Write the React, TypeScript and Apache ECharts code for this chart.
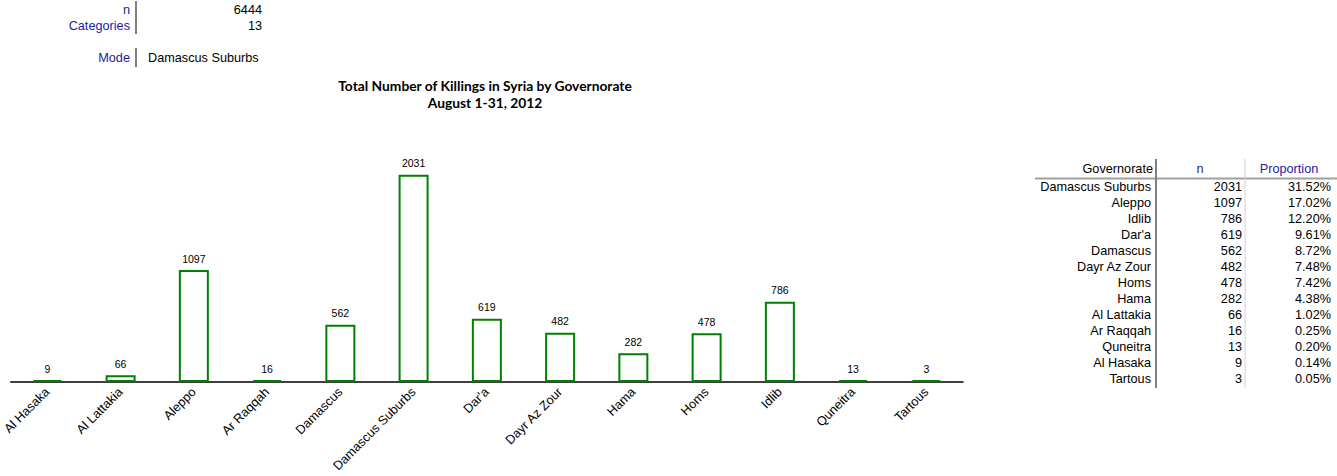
import React, { useEffect, useRef } from "react";
import * as echarts from "echarts";

const categories = [
  "Al Hasaka", "Al Lattakia", "Aleppo", "Ar Raqqah", "Damascus", "Damascus Suburbs",
  "Dar'a", "Dayr Az Zour", "Hama", "Homs", "Idlib", "Quneitra", "Tartous",
];
const killings = [9, 66, 1097, 16, 562, 2031, 619, 482, 282, 478, 786, 13, 3];

const statLabels = ["n", "Categories"];
const statValues = ["6444", "13"];
const modeLabel = "Mode";
const modeValue = "Damascus Suburbs";

const titleLines = ["Total Number of Killings in Syria by Governorate", "August 1-31, 2012"];

const tableHeaders = ["Governorate", "n", "Proportion"];
const tableNames = [
  "Damascus Suburbs", "Aleppo", "Idlib", "Dar'a", "Damascus", "Dayr Az Zour", "Homs",
  "Hama", "Al Lattakia", "Ar Raqqah", "Quneitra", "Al Hasaka", "Tartous",
];
const tableN = [2031, 1097, 786, 619, 562, 482, 478, 282, 66, 16, 13, 9, 3];
const tableProp = [
  "31.52%", "17.02%", "12.20%", "9.61%", "8.72%", "7.48%", "7.42%", "4.38%",
  "1.02%", "0.25%", "0.20%", "0.14%", "0.05%",
];

const FONT = '"Liberation Sans", Arial, sans-serif';
const BLUE = "#22229e";

export default function App() {
  const ref = useRef<HTMLDivElement>(null);
  useEffect(() => {
    if (!ref.current) return;
    const chart = echarts.init(ref.current, undefined, { renderer: "svg" });
    const txt = (x: number, y: number, text: string, align: string, fill = "#000", font = `12.7px ${FONT}`) => ({
      type: "text",
      x,
      y,
      silent: true,
      style: { text, font, fill, textAlign: align, textVerticalAlign: "middle" },
    });
    const ln = (x1: number, y1: number, x2: number, y2: number, stroke: string, w: number) => ({
      type: "line",
      silent: true,
      shape: { x1, y1, x2, y2 },
      style: { stroke, lineWidth: w },
    });
    const graphics: any[] = [];
    statLabels.forEach((l, i) => {
      graphics.push(txt(130, 10 + i * 16, l, "right", BLUE));
      graphics.push(txt(262, 10 + i * 16, statValues[i], "right"));
    });
    graphics.push(ln(136, 1, 136, 34, "#808080", 2));
    graphics.push(txt(130, 58, modeLabel, "right", BLUE));
    graphics.push(txt(148, 58, modeValue, "left"));
    graphics.push(ln(136, 48, 136, 67, "#808080", 2));
    titleLines.forEach((t, i) => {
      graphics.push(txt(485, 85 + i * 17, t, "center", "#000", `bold 13.8px Lato, "Open Sans", sans-serif`));
    });
    // table
    graphics.push(txt(1153, 169, tableHeaders[0], "right"));
    graphics.push(txt(1200, 169, tableHeaders[1], "center", BLUE));
    graphics.push(txt(1289, 169, tableHeaders[2], "center", BLUE));
    tableNames.forEach((nm, i) => {
      const y = 187 + i * 16;
      graphics.push(txt(1151, y, nm, "right"));
      graphics.push(txt(1242, y, String(tableN[i]), "right"));
      graphics.push(txt(1331, y, tableProp[i], "right"));
    });
    graphics.push(ln(1035, 178.5, 1337, 178.5, "#a0a0a0", 2));
    graphics.push(ln(1156, 159, 1156, 388, "#808080", 2));
    graphics.push(ln(1245, 159, 1245, 388, "#d0d0d0", 1));

    chart.setOption({
      animation: false,
      grid: { left: 4, top: 137, width: 959, height: 245, containLabel: false },
      xAxis: {
        type: "category",
        data: categories,
        axisLine: { show: true, lineStyle: { color: "#000", width: 1.5 } },
        axisTick: { show: false },
        axisLabel: { rotate: 45, interval: 0, margin: 8, color: "#000", fontSize: 12.7, fontFamily: FONT },
      },
      yAxis: { type: "value", min: 0, max: 2400, show: false, splitLine: { show: false } },
      series: [
        {
          type: "bar",
          data: killings,
          barWidth: 30,
          barMinHeight: 2,
          itemStyle: { color: "rgba(255,255,255,0)", borderColor: "#008000", borderWidth: 2 },
          label: { show: true, position: "top", distance: 6, color: "#000", fontSize: 10.5, fontFamily: FONT },
        },
      ],
      graphic: graphics,
    });
    return () => chart.dispose();
  }, []);
  return <div ref={ref} style={{ position: "fixed", left: 0, top: 0, width: 1337, height: 476, background: "#fff" }} />;
}
